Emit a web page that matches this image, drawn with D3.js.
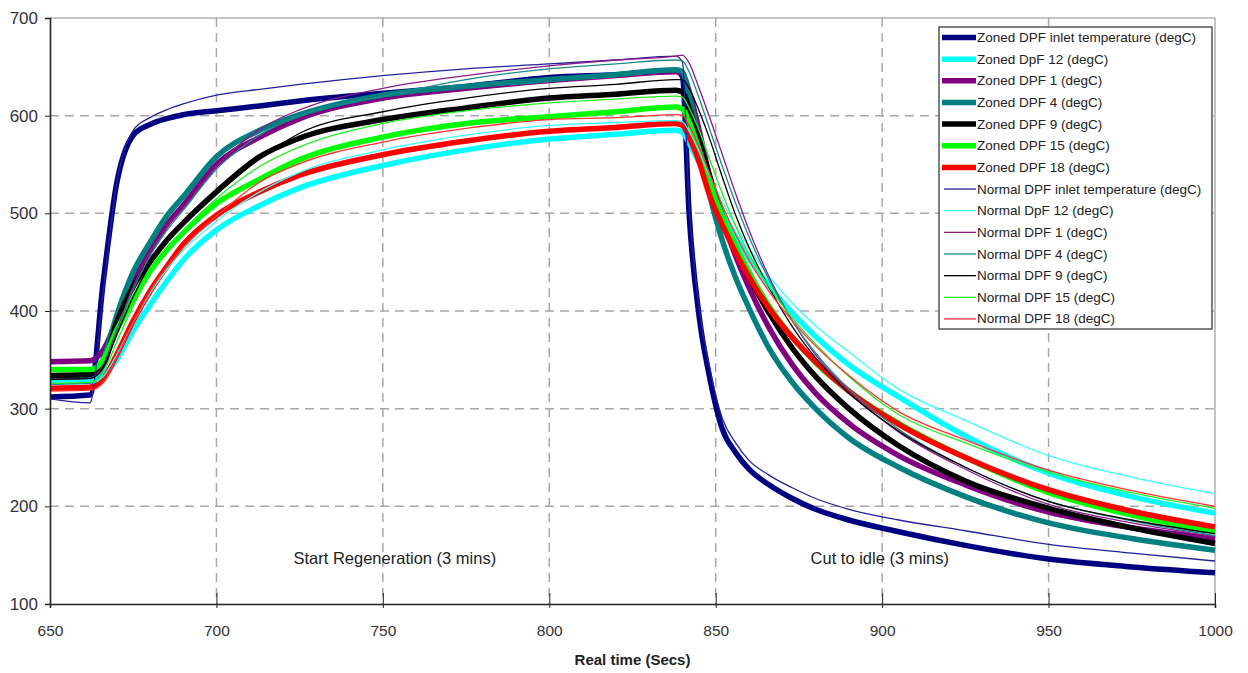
<!DOCTYPE html>
<html>
<head>
<meta charset="utf-8">
<script src="https://cdn.jsdelivr.net/npm/d3@7"></script>
<style>
  body { margin: 0; background: #fff; }
  svg text { font-family: "Liberation Sans", Arial, sans-serif; }
</style>
</head>
<body>
<svg id="chart" width="1248" height="673"></svg>
<script>
// sample times (secs)
var times = [650, 662, 666, 670, 675, 680, 685, 690, 700, 713, 725, 750, 775, 800, 820, 838,
             840, 842, 845, 848, 852, 856, 860, 866, 873, 880, 890, 905, 925, 950, 975, 1000];

// zoned DPF (thick)
var zonedInlet = [312, 314, 430, 530, 580, 591, 597, 601, 605, 610, 615, 623, 630, 639, 642, 646,
                  640, 500, 395, 335, 279, 255, 238, 222, 208, 197, 186, 174, 160, 146, 138, 132];
var zoned12 = [329, 330, 335, 350, 380, 406, 430, 452, 483, 508, 526, 549, 565, 576, 581, 585,
               583, 572, 552, 528, 501, 476, 454, 426, 398, 374, 345, 312, 272, 234, 210, 193];
var zoned1 = [348, 349, 360, 390, 430, 462, 488, 508, 550, 578, 597, 618, 628, 636, 641, 645,
              643, 625, 585, 540, 494, 456, 424, 383, 345, 316, 285, 252, 222, 194, 178, 167];
var zoned4 = [332, 333, 350, 395, 440, 470, 497, 517, 558, 585, 601, 621, 630, 637, 642, 647,
              645, 620, 575, 522, 472, 434, 403, 362, 327, 300, 270, 240, 210, 183, 167, 155];
var zoned9 = [334, 335, 345, 388, 425, 450, 472, 490, 522, 558, 577, 596, 608, 618, 622, 626,
              624, 608, 575, 540, 497, 463, 435, 398, 362, 333, 300, 262, 226, 198, 178, 162];
var zoned15 = [340, 340, 350, 380, 412, 440, 462, 480, 510, 535, 555, 578, 592, 599, 604, 609,
               607, 594, 565, 533, 497, 467, 440, 405, 373, 347, 318, 285, 250, 214, 191, 174];
var zoned18 = [321, 322, 330, 355, 390, 420, 445, 468, 498, 522, 539, 560, 574, 584, 588, 592,
               590, 578, 553, 520, 488, 460, 435, 403, 373, 348, 318, 284, 250, 217, 195, 179];

// normal DPF (thin)
var normalInlet = [310, 306, 420, 530, 585, 598, 606, 612, 621, 627, 632, 641, 648, 653, 657, 661,
                   655, 510, 405, 345, 290, 265, 247, 232, 219, 208, 197, 186, 175, 161, 152, 144];
var normal12 = [325, 326, 333, 355, 388, 418, 442, 462, 492, 522, 542, 565, 580, 590, 593, 595,
                594, 584, 563, 540, 512, 487, 465, 436, 408, 385, 358, 320, 288, 252, 230, 213];
var normal1 = [330, 331, 345, 380, 425, 460, 485, 505, 548, 586, 606, 628, 641, 651, 657, 661,
               662, 654, 628, 600, 560, 520, 483, 435, 390, 355, 318, 276, 238, 202, 183, 169];
var normal4 = [325, 326, 340, 378, 422, 456, 482, 503, 545, 580, 600, 620, 637, 648, 653, 657,
               656, 645, 618, 588, 548, 510, 476, 432, 390, 357, 320, 279, 240, 205, 185, 170];
var normal9 = [330, 331, 342, 375, 415, 447, 472, 492, 520, 556, 582, 604, 618, 628, 632, 637,
               637, 628, 605, 578, 537, 498, 465, 424, 384, 352, 316, 277, 240, 205, 186, 172];
var normal15 = [326, 327, 337, 368, 405, 437, 462, 482, 515, 548, 568, 592, 605, 613, 617, 620,
                619, 608, 585, 557, 520, 487, 458, 425, 393, 366, 333, 294, 265, 235, 214, 198];
var normal18 = [318, 319, 327, 352, 388, 420, 445, 465, 497, 532, 551, 573, 587, 596, 598, 601,
                600, 590, 568, 542, 508, 478, 452, 420, 390, 364, 334, 297, 268, 237, 216, 200];

var seriesNames = [
	'Zoned DPF inlet temperature (degC)', 'Zoned DpF 12 (degC)', 'Zoned DPF 1 (degC)',
	'Zoned DPF 4 (degC)', 'Zoned DPF 9 (degC)', 'Zoned DPF 15 (degC)', 'Zoned DPF 18 (degC)',
	'Normal DPF inlet temperature (degC)', 'Normal DpF 12 (degC)', 'Normal DPF 1 (degC)',
	'Normal DPF 4 (degC)', 'Normal DPF 9 (degC)', 'Normal DPF 15 (degC)', 'Normal DPF 18 (degC)'
];
var seriesValues = [zonedInlet, zoned12, zoned1, zoned4, zoned9, zoned15, zoned18,
                    normalInlet, normal12, normal1, normal4, normal9, normal15, normal18];
var seriesColors = ['#000080', '#00ffff', '#800080', '#008080', '#000000', '#00ff00', '#ff0000',
                    '#22229a', '#33ffff', '#8b1a8b', '#1a8a8a', '#000000', '#22ee22', '#ff3333'];

var xTicks = [650, 700, 750, 800, 850, 900, 950, 1000];
var yTicks = [100, 200, 300, 400, 500, 600, 700];

var notes = [
	{text: 'Start Regeneration (3 mins)', t: 753.6, v: 141},
	{text: 'Cut to idle (3 mins)', t: 899.3, v: 141}
];

var svg = d3.select('#chart');
var mLeft = 50, mRight = 1215, mTop = 18, mBottom = 604;

var x = d3.scaleLinear().domain([650, 1000]).range([mLeft, mRight]);
var y = d3.scaleLinear().domain([100, 700]).range([mBottom, mTop]);

// frame and grid
svg.append('g').selectAll('line').data(yTicks.slice(1, -1)).enter().append('line')
	.attr('x1', mLeft).attr('x2', mRight)
	.attr('y1', function (d) { return y(d); }).attr('y2', function (d) { return y(d); })
	.attr('stroke', '#a8a8a8').attr('stroke-width', 1.5).attr('stroke-dasharray', '9,6');
svg.append('g').selectAll('line').data(xTicks.slice(1, -1)).enter().append('line')
	.attr('y1', mTop).attr('y2', mBottom)
	.attr('x1', function (d) { return x(d); }).attr('x2', function (d) { return x(d); })
	.attr('stroke', '#a8a8a8').attr('stroke-width', 1.5).attr('stroke-dasharray', '9,6');
svg.append('line').attr('x1', mLeft).attr('x2', mRight).attr('y1', mTop).attr('y2', mTop)
	.attr('stroke', '#888').attr('stroke-width', 1);
svg.append('line').attr('x1', mRight).attr('x2', mRight).attr('y1', mTop).attr('y2', mBottom)
	.attr('stroke', '#888').attr('stroke-width', 1);

// series
var line = d3.line()
	.x(function (d) { return x(d[0]); })
	.y(function (d) { return y(d[1]); })
	.curve(d3.curveMonotoneX);

var table = seriesNames.map(function (name, i) {
	return {
		name: name,
		color: seriesColors[i],
		width: i < 7 ? 5.5 : 1.3,
		points: times.map(function (t, j) { return [t, seriesValues[i][j]]; })
	};
});

svg.append('g').selectAll('path').data(table).enter().append('path')
	.attr('d', function (d) { return line(d.points); })
	.attr('fill', 'none')
	.attr('stroke', function (d) { return d.color; })
	.attr('stroke-width', function (d) { return d.width; })
	.attr('stroke-linejoin', 'round');

// axes
var xAxis = svg.append('g').attr('transform', 'translate(0,' + mBottom + ')')
	.call(d3.axisBottom(x).tickValues(xTicks).tickSize(4).tickPadding(17).tickFormat(d3.format('d')));
xAxis.selectAll('.tick line').attr('y1', -11).attr('stroke', '#222');
var yAxis = svg.append('g').attr('transform', 'translate(' + mLeft + ',0)')
	.call(d3.axisLeft(y).tickValues(yTicks).tickSize(5).tickPadding(7).tickFormat(d3.format('d')));
yAxis.selectAll('.tick line').attr('stroke', '#222');
[xAxis, yAxis].forEach(function (a) {
	a.select('.domain').attr('stroke', '#222').attr('stroke-width', 1.6);
	a.selectAll('text').attr('font-size', 17).attr('fill', '#333')
		.attr('font-family', '"Liberation Sans", Arial, sans-serif');
});
xAxis.selectAll('.tick text').attr('font-size', 15.5);

svg.append('text').attr('x', (mLeft + mRight) / 2).attr('y', 665)
	.attr('text-anchor', 'middle').attr('font-size', 15).attr('font-weight', 'bold')
	.attr('fill', '#222').text('Real time (Secs)');

svg.append('g').selectAll('text').data(notes).enter().append('text')
	.attr('x', function (d) { return x(d.t); }).attr('y', function (d) { return y(d.v); })
	.attr('text-anchor', 'middle').attr('font-size', 16.5).attr('fill', '#222')
	.text(function (d) { return d.text; });

// legend
var lg = svg.append('g').attr('transform', 'translate(939,27)');
lg.append('rect').attr('width', 273).attr('height', 302)
	.attr('fill', '#fff').attr('stroke', '#555').attr('stroke-width', 1.5);
var rows = lg.selectAll('g.row').data(table).enter().append('g')
	.attr('transform', function (d, i) { return 'translate(0,' + (10.5 + i * 21.65) + ')'; });
rows.append('line').attr('x1', function (d) { return d.width > 2 ? 3 : 5; }).attr('x2', 37)
	.attr('stroke', function (d) { return d.color; })
	.attr('stroke-width', function (d) { return d.width; });
rows.append('text').attr('x', 38).attr('y', 4.5).attr('font-size', 13.5).attr('fill', '#222')
	.text(function (d) { return d.name; });
</script>
</body>
</html>
